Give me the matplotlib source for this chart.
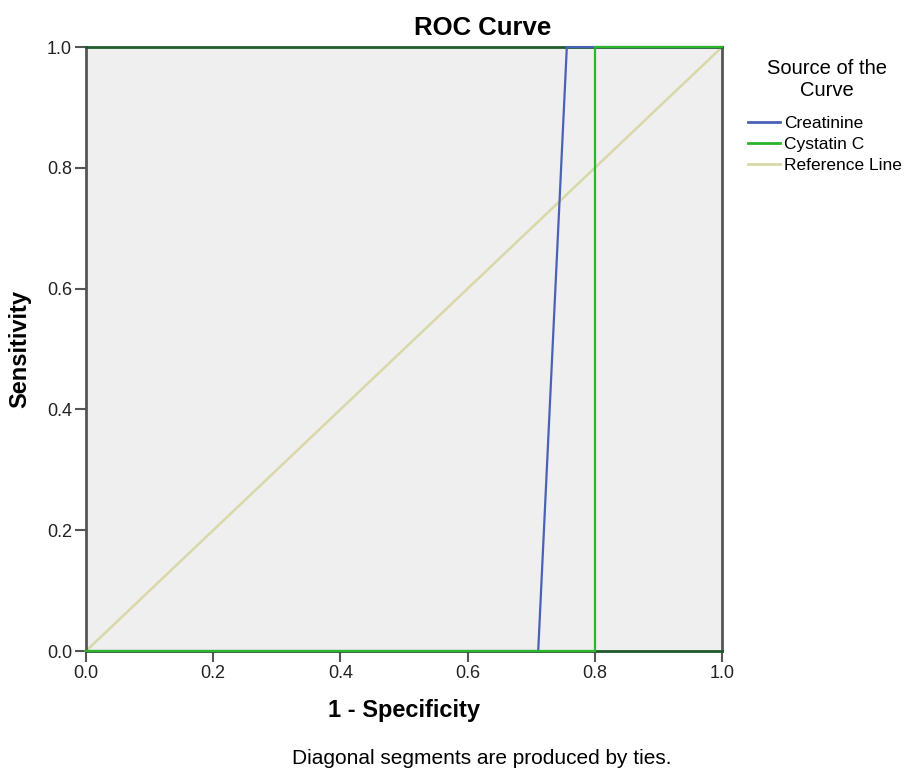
import matplotlib
matplotlib.use("Agg")
import matplotlib.pyplot as plt
from matplotlib.lines import Line2D

# ROC coordinates (1 - specificity, sensitivity)
creat_fpr = [0.0, 0.711, 0.756, 1.0]
creat_tpr = [0.0, 0.0, 1.0, 1.0]
cyst_fpr = [0.0, 0.8, 0.8, 1.0]
cyst_tpr = [0.0, 0.0, 1.0, 1.0]
ref_x = [0.0, 1.0]
ref_y = [0.0, 1.0]

series_names = ["Creatinine", "Cystatin C", "Reference Line"]
series_colors = ["#4a62b4", "#2cb52a", "#d8d8a8"]
ticks = [0.0, 0.2, 0.4, 0.6, 0.8, 1.0]

plt.rcParams["font.family"] = ["Liberation Sans", "DejaVu Sans"]

fig = plt.figure(figsize=(9.09, 7.69), dpi=100)
ax = fig.add_axes([0.0946, 0.1534, 0.6997, 0.7854])
ax.set_facecolor("#efefef")

ax.plot(ref_x, ref_y, color=series_colors[2], lw=1.8, clip_on=False, zorder=2)
ax.plot(creat_fpr, creat_tpr, color=series_colors[0], lw=1.6, clip_on=False, zorder=3)
ax.plot(cyst_fpr, cyst_tpr, color=series_colors[1], lw=1.6, clip_on=False, zorder=4)

ax.set_xlim(0, 1)
ax.set_ylim(0, 1)
ax.set_xticks(ticks)
ax.set_yticks(ticks)
ax.set_xticklabels(["%.1f" % t for t in ticks])
ax.set_yticklabels(["%.1f" % t for t in ticks])
ax.tick_params(direction="out", length=8, width=1.5, color="#555555",
               labelsize=13, labelcolor="#222222", pad=2)
for sp in ax.spines.values():
    sp.set_color("#555555")
    sp.set_linewidth(2)
for side in ("bottom", "top"):
    ax.spines[side].set_color("#1f5a2c")

# titles and axis labels placed in figure pixels
W, H = 909.0, 769.0
fig.text(483 / W, 1 - 28 / H, "ROC Curve", ha="center", va="center",
         fontsize=18.5, fontweight="bold")
fig.text(404 / W, 1 - 711 / H, "1 - Specificity", ha="center", va="center",
         fontsize=17, fontweight="bold")
fig.text(20 / W, 1 - 349 / H, "Sensitivity", ha="center", va="center",
         rotation=90, fontsize=17, fontweight="bold")
fig.text(482 / W, 1 - 758 / H, "Diagonal segments are produced by ties.",
         ha="center", va="center", fontsize=15)

# legend block on the right
fig.text(827 / W, 1 - 68 / H, "Source of the", ha="center", va="center", fontsize=14.5)
fig.text(827 / W, 1 - 90 / H, "Curve", ha="center", va="center", fontsize=14.5)
for i, (name, col) in enumerate(zip(series_names, series_colors)):
    y = 1 - (122 + 21 * i) / H
    fig.add_artist(Line2D([748 / W, 780 / W], [y, y], color=col, lw=2,
                          transform=fig.transFigure))
    fig.text(784 / W, y, name, ha="left", va="center_baseline", fontsize=12.5)

fig.savefig("out.png", dpi=100)
